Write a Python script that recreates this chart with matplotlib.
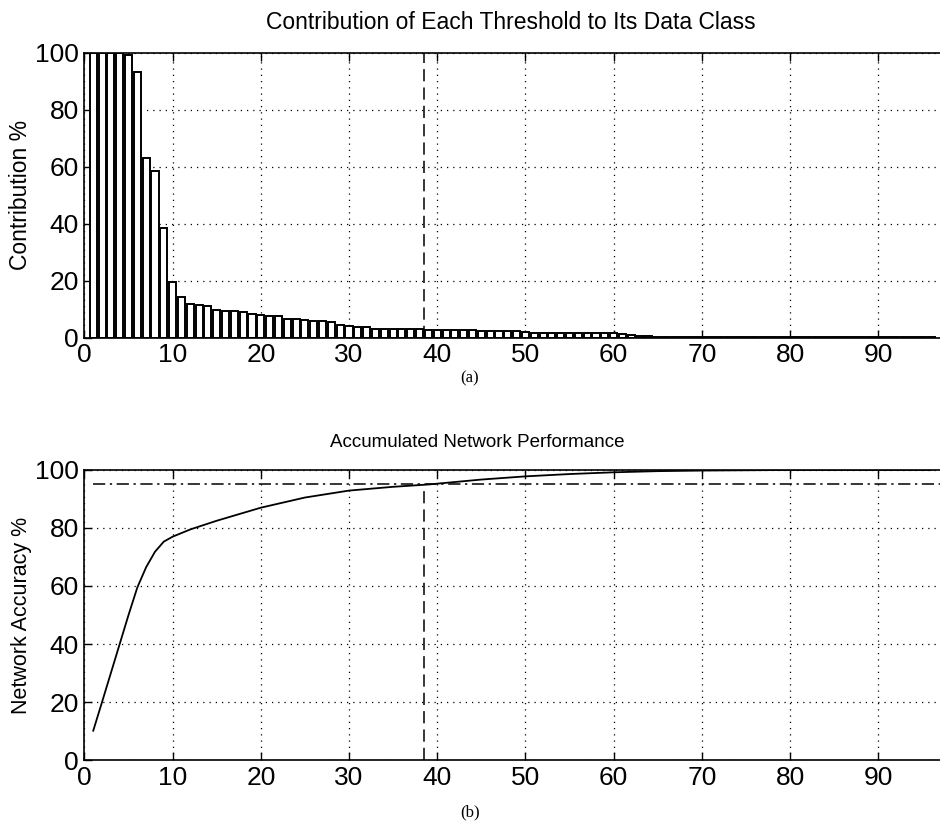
import matplotlib
matplotlib.use("Agg")
import matplotlib.pyplot as plt
import numpy as np

# contribution of each threshold (%), thresholds 1..96
contribution = [100, 100, 100, 100, 99.2, 93.1, 62.9, 58.6, 38.6, 19.6,
                14.2, 11.9, 11.3, 11.0, 9.6, 9.2, 9.2, 8.9, 8.4, 8.0,
                7.7, 7.6, 6.4, 6.4, 6.3, 6.0, 5.8, 5.4, 4.6, 4.1,
                3.8, 3.7, 3.2, 3.1, 3.0, 3.0, 2.9, 2.9, 2.8, 2.8,
                2.8, 2.7, 2.7, 2.6, 2.5, 2.4, 2.4, 2.3, 2.3, 1.9,
                1.8, 1.8, 1.8, 1.7, 1.7, 1.7, 1.6, 1.6, 1.5, 1.5,
                1.2, 0.8, 0.6, 0.5, 0.4, 0.3, 0.3, 0.3, 0.3, 0.3,
                0.2, 0.2, 0.2, 0.2, 0.2, 0.2, 0.2, 0.2, 0.2, 0.2,
                0.2, 0.2, 0.2, 0.1, 0.1, 0.1, 0.1, 0.1, 0.1, 0.1,
                0.1, 0.1, 0.1, 0.1, 0.1, 0.1]
thresholds = np.arange(1, len(contribution) + 1)

# accumulated network accuracy (%)
acc_x = [1, 2, 3, 4, 5, 6, 7, 8, 9, 10, 12, 15, 20, 25, 30, 35, 39, 45,
         50, 55, 60, 65, 70, 75, 80, 90, 96]
acc_y = [10.1, 20, 30, 40, 50, 59.5, 66.5, 71.8, 75.3, 77, 79.5, 82.5, 87,
         90.5, 92.9, 94.2, 95.0, 96.7, 97.8, 98.6, 99.2, 99.6, 99.8, 99.9,
         100, 100, 100]

cut_x = 38.5
target_acc = 95
xticks = [0, 10, 20, 30, 40, 50, 60, 70, 80, 90]
yticks = [0, 20, 40, 60, 80, 100]

plt.rcParams['font.family'] = ['Liberation Sans', 'DejaVu Sans']

fig = plt.figure(figsize=(9.4, 8.27), dpi=100)
ax1 = fig.add_axes([0.0898, 0.5917, 0.9102, 0.3446])
ax2 = fig.add_axes([0.0898, 0.0810, 0.9102, 0.3507])

grid_style = dict(color='black', linestyle=(0, (1, 4)), linewidth=0.9)


def style_axes(ax):
    ax.set_xlim(0, 97)
    ax.set_ylim(0, 100)
    ax.set_xticks(xticks)
    ax.set_yticks(yticks)
    ax.grid(True, **grid_style)
    ax.set_axisbelow(True)
    ax.tick_params(direction='in', length=6, width=1.0, labelsize=19,
                   top=True, right=False, pad=4)
    ax.spines['right'].set_visible(False)
    for s in ['left', 'top', 'bottom']:
        ax.spines[s].set_linewidth(1.2)


# (a) contribution bars
ax1.bar(thresholds, contribution, width=0.8, color='white',
        edgecolor='black', linewidth=1.4, zorder=2)
ax1.plot([cut_x, cut_x], [0, 100], color='black', linestyle=(0, (8, 4)),
         linewidth=1.1, zorder=3)
style_axes(ax1)
ax1.set_ylabel("Contribution %", fontsize=16.5)
ax1.yaxis.set_label_coords(-0.061, 0.5)
fig.text(0.543, 0.973, "Contribution of Each Threshold to Its Data Class",
         ha='center', va='center', fontsize=16.5)

# (b) accumulated accuracy
ax2.plot(acc_x, acc_y, color='black', linewidth=1.3, zorder=3)
ax2.plot([1, 97], [target_acc, target_acc], color='black',
         linestyle=(0, (8, 3, 1.5, 3)), linewidth=1.1, zorder=3)
ax2.plot([cut_x, cut_x], [0, target_acc], color='black',
         linestyle=(0, (8, 4)), linewidth=1.1, zorder=3)
style_axes(ax2)
ax2.set_ylabel("Network Accuracy %", fontsize=15.5)
ax2.yaxis.set_label_coords(-0.061, 0.5)
fig.text(0.508, 0.4655, "Accumulated Network Performance",
         ha='center', va='center', fontsize=13.5)

fig.text(0.5, 0.543, "(a)", ha='center', va='center', fontsize=12,
         family='Liberation Serif')
fig.text(0.5, 0.018, "(b)", ha='center', va='center', fontsize=12,
         family='Liberation Serif')

fig.savefig("out.png", dpi=100)
plt.close(fig)
